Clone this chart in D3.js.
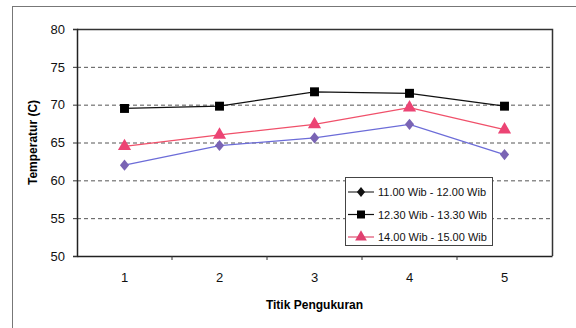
<!DOCTYPE html>
<html>
<head>
<meta charset="utf-8">
<script src="https://cdn.jsdelivr.net/npm/d3@7"></script>
<style>
  body { margin: 0; background: #fff; }
  svg { display: block; font-family: "Liberation Sans", Arial, sans-serif; }
</style>
</head>
<body>
<div id="app"></div>
<script>
const categories = ['1', '2', '3', '4', '5'];
const seriesNames = ['11.00 Wib - 12.00 Wib', '12.30 Wib - 13.30 Wib', '14.00 Wib - 15.00 Wib'];
const pagi = [62.0, 64.6, 65.6, 67.4, 63.4];
const siang = [69.5, 69.8, 71.7, 71.5, 69.8];
const sore = [64.5, 66.0, 67.4, 69.6, 66.7];
const yTicks = [50, 55, 60, 65, 70, 75, 80];

const width = 576;
const height = 328;
const margin = { top: 29, right: 24, bottom: 72, left: 77 };

const svg = d3.select('#app').append('svg')
  .attr('width', width)
  .attr('height', height);

// outer chart frame
svg.append('rect')
  .attr('x', 12.5).attr('y', 6.5)
  .attr('width', 580).attr('height', 340)
  .attr('fill', 'none')
  .attr('stroke', '#777')
  .attr('stroke-width', 1);

const x = d3.scaleBand()
  .domain(categories)
  .range([margin.left, width - margin.right]);

const y = d3.scaleLinear()
  .domain([50, 80])
  .range([height - margin.bottom, margin.top]);

// grid
svg.append('g')
  .selectAll('line')
  .data(yTicks.filter(d => d > 50 && d < 80))
  .join('line')
  .attr('x1', margin.left).attr('x2', width - margin.right)
  .attr('y1', d => y(d) + 0.5).attr('y2', d => y(d) + 0.5)
  .attr('stroke', '#555')
  .attr('stroke-dasharray', '4,3');

// plot border (top and right)
svg.append('path')
  .attr('d', `M${margin.left},${margin.top + 0.5}H${width - margin.right + 0.5}V${height - margin.bottom}`)
  .attr('fill', 'none')
  .attr('stroke', '#333')
  .attr('stroke-width', 1.5);

// axes
const yAxis = svg.append('g')
  .attr('transform', `translate(${margin.left},0)`)
  .call(d3.axisLeft(y).tickValues(yTicks).tickSize(4).tickPadding(8));

const xAxis = svg.append('g')
  .attr('transform', `translate(0,${height - margin.bottom})`)
  .call(d3.axisBottom(x).tickSize(0).tickPadding(17));

xAxis.selectAll('.tick')
  .filter((d, i) => i > 0)
  .append('line')
  .attr('x1', -x.bandwidth() / 2).attr('x2', -x.bandwidth() / 2)
  .attr('y1', 0).attr('y2', 4)
  .attr('stroke', '#333');

[yAxis, xAxis].forEach(g => {
  g.select('.domain').attr('stroke', '#222').attr('stroke-width', 1.5);
  g.selectAll('.tick line').attr('stroke', '#333');
  g.selectAll('text')
    .attr('font-size', 13)
    .attr('font-family', '"Liberation Sans", Arial, sans-serif')
    .attr('fill', '#111');
});

// axis titles
svg.append('text')
  .attr('transform', `translate(37,${(margin.top + height - margin.bottom) / 2}) rotate(-90)`)
  .attr('text-anchor', 'middle')
  .attr('font-size', 12)
  .attr('font-weight', 'bold')
  .text('Temperatur (C)');

svg.append('text')
  .attr('x', (margin.left + width - margin.right) / 2)
  .attr('y', 309)
  .attr('text-anchor', 'middle')
  .attr('font-size', 12)
  .attr('font-weight', 'bold')
  .text('Titik Pengukuran');

// series
const cx = (d, i) => x(categories[i]) + x.bandwidth() / 2;
const line = d3.line().x(cx).y(d => y(d));

const series = [
  { name: seriesNames[0], values: pagi, line: '#6c6cd8', fill: '#7a64b4', shape: d3.symbolDiamond, size: 40, sx: 1.35, sy: 0.95 },
  { name: seriesNames[1], values: siang, line: '#111', fill: '#000', shape: d3.symbolSquare, size: 80, sx: 1, sy: 1 },
  { name: seriesNames[2], values: sore, line: '#f0506a', fill: '#ec4474', shape: d3.symbolTriangle, size: 75, sx: 1, sy: 1 }
];

series.forEach(s => {
  svg.append('path')
    .datum(s.values)
    .attr('d', line)
    .attr('fill', 'none')
    .attr('stroke', s.line)
    .attr('stroke-width', 1.3);

  svg.append('g')
    .selectAll('path')
    .data(s.values)
    .join('path')
    .attr('transform', (d, i) => `translate(${cx(d, i)},${y(d)}) scale(${s.sx},${s.sy})`)
    .attr('d', d3.symbol(s.shape, s.size))
    .attr('fill', s.fill);
});

// legend
const legend = svg.append('g').attr('transform', 'translate(345,177)');
legend.append('rect')
  .attr('x', 0.5).attr('y', 0.5)
  .attr('width', 147).attr('height', 68)
  .attr('fill', '#fff')
  .attr('stroke', '#444');

const legendColors = [
  { line: '#333', fill: '#111' },
  { line: '#111', fill: '#000' },
  { line: '#e05070', fill: '#e04070' }
];

series.forEach((s, i) => {
  const row = legend.append('g').attr('transform', `translate(0,${15 + i * 22.5})`);
  row.append('line')
    .attr('x1', 3).attr('x2', 29)
    .attr('stroke', legendColors[i].line)
    .attr('stroke-width', 1.2);
  row.append('path')
    .attr('transform', `translate(16,0) scale(${s.sx},${s.sy})`)
    .attr('d', d3.symbol(s.shape, s.size * 0.8))
    .attr('fill', legendColors[i].fill);
  row.append('text')
    .attr('x', 33).attr('y', 4)
    .attr('font-size', 11)
    .attr('fill', '#111')
    .text(s.name);
});
</script>
</body>
</html>
